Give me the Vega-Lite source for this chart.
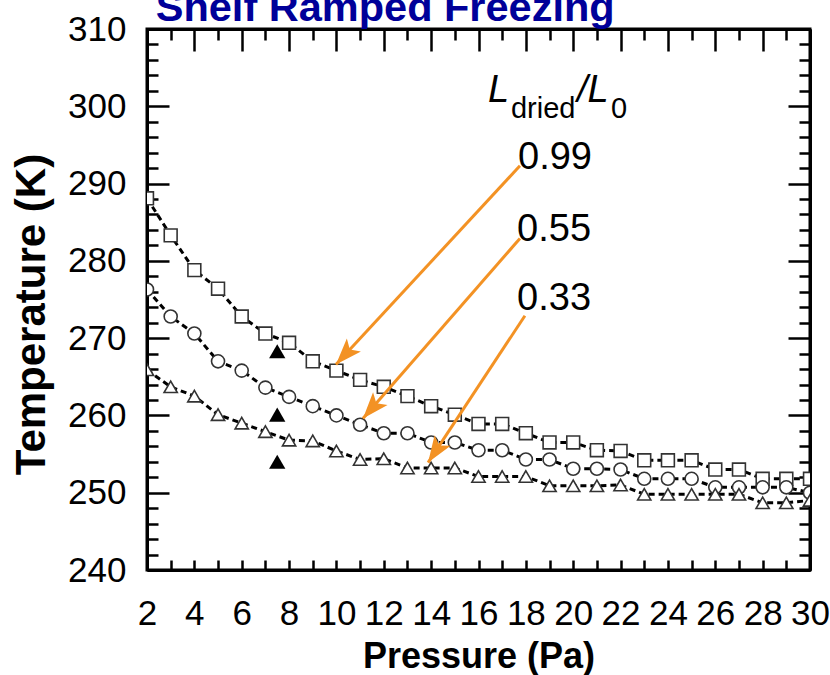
{
  "$schema": "https://vega.github.io/schema/vega-lite/v6.json",
  "autosize": "none",
  "width": 663,
  "height": 541,
  "padding": {"left": 147, "top": 29, "right": 20, "bottom": 105},
  "background": "white",
  "config": {
    "view": {"stroke": "black", "strokeWidth": 3},
    "axis": {
      "domainColor": "black", "domainWidth": 3, "tickColor": "black", "tickWidth": 2.5,
      "grid": false, "labelFont": "Liberation Sans", "labelFontSize": 35, "labelColor": "black",
      "titleFont": "Liberation Sans", "titleColor": "black", "titleFontWeight": "bold",
      "labelOverlap": false, "labelFlush": false
    }
  },
  "datasets": {
    "series": [
      {"s": "0.99", "P": 2, "T": 288.1}, {"s": "0.99", "P": 3, "T": 283.3}, {"s": "0.99", "P": 4, "T": 278.8}, {"s": "0.99", "P": 5, "T": 276.4},
      {"s": "0.99", "P": 6, "T": 272.8}, {"s": "0.99", "P": 7, "T": 270.6}, {"s": "0.99", "P": 8, "T": 269.4}, {"s": "0.99", "P": 9, "T": 267.0},
      {"s": "0.99", "P": 10, "T": 265.8}, {"s": "0.99", "P": 11, "T": 264.6}, {"s": "0.99", "P": 12, "T": 263.7}, {"s": "0.99", "P": 13, "T": 262.5},
      {"s": "0.99", "P": 14, "T": 261.2}, {"s": "0.99", "P": 15, "T": 260.1}, {"s": "0.99", "P": 16, "T": 258.9}, {"s": "0.99", "P": 17, "T": 258.9},
      {"s": "0.99", "P": 18, "T": 257.7}, {"s": "0.99", "P": 19, "T": 256.5}, {"s": "0.99", "P": 20, "T": 256.5}, {"s": "0.99", "P": 21, "T": 255.5},
      {"s": "0.99", "P": 22, "T": 255.4}, {"s": "0.99", "P": 23, "T": 254.2}, {"s": "0.99", "P": 24, "T": 254.2}, {"s": "0.99", "P": 25, "T": 254.2},
      {"s": "0.99", "P": 26, "T": 253.0}, {"s": "0.99", "P": 27, "T": 253.0}, {"s": "0.99", "P": 28, "T": 251.8}, {"s": "0.99", "P": 29, "T": 251.8},
      {"s": "0.99", "P": 30, "T": 251.8},
      {"s": "0.55", "P": 2, "T": 276.3}, {"s": "0.55", "P": 3, "T": 272.8}, {"s": "0.55", "P": 4, "T": 270.6}, {"s": "0.55", "P": 5, "T": 267.0},
      {"s": "0.55", "P": 6, "T": 265.8}, {"s": "0.55", "P": 7, "T": 263.6}, {"s": "0.55", "P": 8, "T": 262.4}, {"s": "0.55", "P": 9, "T": 261.2},
      {"s": "0.55", "P": 10, "T": 260.0}, {"s": "0.55", "P": 11, "T": 258.8}, {"s": "0.55", "P": 12, "T": 257.7}, {"s": "0.55", "P": 13, "T": 257.7},
      {"s": "0.55", "P": 14, "T": 256.5}, {"s": "0.55", "P": 15, "T": 256.5}, {"s": "0.55", "P": 16, "T": 255.5}, {"s": "0.55", "P": 17, "T": 255.5},
      {"s": "0.55", "P": 18, "T": 254.3}, {"s": "0.55", "P": 19, "T": 254.3}, {"s": "0.55", "P": 20, "T": 253.1}, {"s": "0.55", "P": 21, "T": 253.1},
      {"s": "0.55", "P": 22, "T": 253.0}, {"s": "0.55", "P": 23, "T": 251.8}, {"s": "0.55", "P": 24, "T": 251.8}, {"s": "0.55", "P": 25, "T": 251.8},
      {"s": "0.55", "P": 26, "T": 250.7}, {"s": "0.55", "P": 27, "T": 250.7}, {"s": "0.55", "P": 28, "T": 250.7}, {"s": "0.55", "P": 29, "T": 250.7},
      {"s": "0.55", "P": 30, "T": 250.0},
      {"s": "0.33", "P": 2, "T": 265.9}, {"s": "0.33", "P": 3, "T": 263.7}, {"s": "0.33", "P": 4, "T": 262.5}, {"s": "0.33", "P": 5, "T": 260.1},
      {"s": "0.33", "P": 6, "T": 259.0}, {"s": "0.33", "P": 7, "T": 257.9}, {"s": "0.33", "P": 8, "T": 256.8}, {"s": "0.33", "P": 9, "T": 256.7},
      {"s": "0.33", "P": 10, "T": 255.4}, {"s": "0.33", "P": 11, "T": 254.3}, {"s": "0.33", "P": 12, "T": 254.4}, {"s": "0.33", "P": 13, "T": 253.2},
      {"s": "0.33", "P": 14, "T": 253.2}, {"s": "0.33", "P": 15, "T": 253.2}, {"s": "0.33", "P": 16, "T": 252.1}, {"s": "0.33", "P": 17, "T": 252.1},
      {"s": "0.33", "P": 18, "T": 252.1}, {"s": "0.33", "P": 19, "T": 250.9}, {"s": "0.33", "P": 20, "T": 250.9}, {"s": "0.33", "P": 21, "T": 250.9},
      {"s": "0.33", "P": 22, "T": 251.0}, {"s": "0.33", "P": 23, "T": 249.8}, {"s": "0.33", "P": 24, "T": 249.8}, {"s": "0.33", "P": 25, "T": 249.8},
      {"s": "0.33", "P": 26, "T": 249.8}, {"s": "0.33", "P": 27, "T": 249.8}, {"s": "0.33", "P": 28, "T": 248.7}, {"s": "0.33", "P": 29, "T": 248.7},
      {"s": "0.33", "P": 30, "T": 249.0}
    ],
    "exp": [
      {"P": 7.5, "T": 268.3}, {"P": 7.5, "T": 260.1}, {"P": 7.5, "T": 254.0}
    ],
    "arrows": [
      {"lab": "0.99", "x1": 17.75, "y1": 292.3, "x2": 9.98, "y2": 266.6},
      {"lab": "0.55", "x1": 17.75, "y1": 282.9, "x2": 11.12, "y2": 259.6},
      {"lab": "0.33", "x1": 17.96, "y1": 272.9, "x2": 13.87, "y2": 253.9}
    ],
    "labels": [
      {"part": "val", "txt": "0.99", "P": 17.67, "T": 291.94},
      {"part": "val", "txt": "0.55", "P": 17.63, "T": 282.55},
      {"part": "val", "txt": "0.33", "P": 17.63, "T": 273.62},
      {"part": "big", "txt": "L", "P": 16.40, "T": 300.61},
      {"part": "big", "txt": "/L", "P": 20.16, "T": 300.61},
      {"part": "sub", "txt": "dried", "P": 17.37, "T": 298.5},
      {"part": "sub", "txt": "0", "P": 21.60, "T": 298.5},
      {"part": "title", "txt": "Shelf Ramped Freezing", "P": 2.37, "T": 311.0}
    ]
  },
  "resolve": {"axis": {"x": "independent", "y": "independent"}},
  "layer": [
    {
      "data": {"name": "series"},
      "mark": {"type": "line", "color": "black", "strokeWidth": 3, "strokeDash": [6, 4], "clip": true},
      "encoding": {
        "x": {"field": "P", "type": "quantitative",
          "scale": {"domain": [2, 30], "nice": false, "zero": false},
          "axis": {"orient": "bottom", "values": [2,3,4,5,6,7,8,9,10,11,12,13,14,15,16,17,18,19,20,21,22,23,24,25,26,27,28,29,30],
            "labelExpr": "datum.value % 2 == 0 ? datum.label : ''", "tickSize": -10, "labelPadding": 36,
            "title": "Pressure (Pa)", "titleFontSize": 36, "titleBaseline": "alphabetic", "titleY": 97, "titleX": 331.5, "titleAnchor": "middle"}},
        "y": {"field": "T", "type": "quantitative",
          "scale": {"domain": [240, 310], "nice": false, "zero": false},
          "axis": {"orient": "left", "values": [240,242,244,246,248,250,252,254,256,258,260,262,264,266,268,270,272,274,276,278,280,282,284,286,288,290,292,294,296,298,300,302,304,306,308,310],
            "labelExpr": "datum.value % 10 == 0 ? datum.label : ''",
            "tickSize": {"condition": {"test": "datum.value % 10 == 0", "value": -22}, "value": -11},
            "labelPadding": 43,
            "title": "Temperature (K)", "titleFontSize": 42, "titleBaseline": "middle", "titleAngle": 270, "titleX": -116, "titleY": 285, "titleAnchor": "middle"}},
        "detail": {"field": "s"}
      }
    },
    {
      "data": {"name": "series"},
      "mark": {"type": "point", "filled": true, "fill": "white", "stroke": "#333333", "strokeWidth": 1.6, "opacity": 1, "clip": true},
      "encoding": {
        "x": {"field": "P", "type": "quantitative",
          "scale": {"domain": [2, 30], "nice": false, "zero": false},
          "axis": {"orient": "top", "values": [2,3,4,5,6,7,8,9,10,11,12,13,14,15,16,17,18,19,20,21,22,23,24,25,26,27,28,29,30],
            "labels": false, "title": null,
            "tickSize": {"condition": {"test": "datum.value % 2 == 0", "value": -22}, "value": -11}}},
        "y": {"field": "T", "type": "quantitative",
          "scale": {"domain": [240, 310], "nice": false, "zero": false},
          "axis": {"orient": "right", "values": [240,242,244,246,248,250,252,254,256,258,260,262,264,266,268,270,272,274,276,278,280,282,284,286,288,290,292,294,296,298,300,302,304,306,308,310],
            "labels": false, "title": null,
            "tickSize": {"condition": {"test": "datum.value % 10 == 0", "value": -22}, "value": -11}}},
        "shape": {"field": "s", "type": "nominal", "legend": null,
          "scale": {"domain": ["0.99", "0.55", "0.33"], "range": ["square", "circle", "triangle-up"]}},
        "size": {"field": "s", "type": "nominal", "legend": null,
          "scale": {"domain": ["0.99", "0.55", "0.33"], "range": [165, 175, 265]}}
      }
    },
    {
      "data": {"name": "exp"},
      "mark": {"type": "point", "shape": "triangle-up", "filled": true, "color": "black", "size": 265, "opacity": 1},
      "encoding": {
        "x": {"field": "P", "type": "quantitative", "scale": {"domain": [2, 30], "nice": false, "zero": false}, "axis": null},
        "y": {"field": "T", "type": "quantitative", "scale": {"domain": [240, 310], "nice": false, "zero": false}, "axis": null}
      }
    },
    {
      "data": {"name": "arrows"},
      "mark": {"type": "rule", "color": "#F39224", "strokeWidth": 3},
      "encoding": {
        "x": {"field": "x1", "type": "quantitative", "scale": {"domain": [2, 30], "nice": false, "zero": false}, "axis": null},
        "y": {"field": "y1", "type": "quantitative", "scale": {"domain": [240, 310], "nice": false, "zero": false}, "axis": null},
        "x2": {"field": "x2"},
        "y2": {"field": "y2"}
      }
    },
    {
      "data": {"name": "arrows"},
      "transform": [{"calculate": "atan2((datum.x2 - datum.x1) * 23.68, (datum.y2 - datum.y1) * 7.73) * 180 / PI", "as": "ang"}],
      "mark": {"type": "point", "shape": "M0,0L0.8,2.2L0,1.7L-0.8,2.2Z", "filled": true, "color": "#F39224", "size": 576, "opacity": 1},
      "encoding": {
        "x": {"field": "x2", "type": "quantitative", "scale": {"domain": [2, 30], "nice": false, "zero": false}, "axis": null},
        "y": {"field": "y2", "type": "quantitative", "scale": {"domain": [240, 310], "nice": false, "zero": false}, "axis": null},
        "angle": {"field": "ang", "type": "quantitative", "scale": null}
      }
    },
    {
      "data": {"name": "labels"},
      "transform": [{"filter": "datum.part == 'val'"}],
      "mark": {"type": "text", "align": "left", "baseline": "alphabetic", "font": "Liberation Sans", "fontSize": 38, "color": "black"},
      "encoding": {
        "x": {"field": "P", "type": "quantitative", "scale": {"domain": [2, 30], "nice": false, "zero": false}, "axis": null},
        "y": {"field": "T", "type": "quantitative", "scale": {"domain": [240, 310], "nice": false, "zero": false}, "axis": null},
        "text": {"field": "txt"}
      }
    },
    {
      "data": {"name": "labels"},
      "transform": [{"filter": "datum.part == 'big'"}],
      "mark": {"type": "text", "align": "left", "baseline": "alphabetic", "font": "Liberation Sans", "fontSize": 38, "fontStyle": "italic", "color": "black"},
      "encoding": {
        "x": {"field": "P", "type": "quantitative", "scale": {"domain": [2, 30], "nice": false, "zero": false}, "axis": null},
        "y": {"field": "T", "type": "quantitative", "scale": {"domain": [240, 310], "nice": false, "zero": false}, "axis": null},
        "text": {"field": "txt"}
      }
    },
    {
      "data": {"name": "labels"},
      "transform": [{"filter": "datum.part == 'sub'"}],
      "mark": {"type": "text", "align": "left", "baseline": "alphabetic", "font": "Liberation Sans", "fontSize": 29, "color": "black"},
      "encoding": {
        "x": {"field": "P", "type": "quantitative", "scale": {"domain": [2, 30], "nice": false, "zero": false}, "axis": null},
        "y": {"field": "T", "type": "quantitative", "scale": {"domain": [240, 310], "nice": false, "zero": false}, "axis": null},
        "text": {"field": "txt"}
      }
    },
    {
      "data": {"name": "labels"},
      "transform": [{"filter": "datum.part == 'title'"}],
      "mark": {"type": "text", "align": "left", "baseline": "alphabetic", "font": "Liberation Sans", "fontSize": 41.5, "fontWeight": "bold", "color": "#000099"},
      "encoding": {
        "x": {"field": "P", "type": "quantitative", "scale": {"domain": [2, 30], "nice": false, "zero": false}, "axis": null},
        "y": {"field": "T", "type": "quantitative", "scale": {"domain": [240, 310], "nice": false, "zero": false}, "axis": null},
        "text": {"field": "txt"}
      }
    }
  ]
}
